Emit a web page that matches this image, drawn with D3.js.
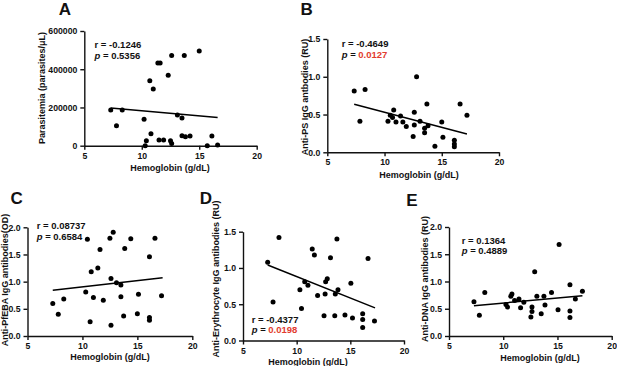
<!doctype html>
<html lang="en">
<head>
<meta charset="utf-8">
<title>Hemoglobin correlations</title>
<script src="https://d3js.org/d3.v7.min.js"></script>
<style>
    body { margin: 0; background: #fff; }
    svg { display: block; }
    text { font-family: "Liberation Sans", Arial, sans-serif; font-weight: bold; fill: #111; }
    .axis .domain, .axis .tick line { stroke: #111; stroke-width: 1.4; }
</style>
</head>
<body>
<svg id="chart" width="617" height="366"></svg>
<script>
    // hemoglobin (g/dL) vs each measure
    const hbA = [7.3, 7.8, 8.3, 10.2, 10.3, 10.4, 10.7, 10.8, 11.0, 11.4, 11.6, 11.5, 11.9, 12.3, 12.5, 12.6, 12.6, 13.1, 13.5, 13.5, 13.7, 13.8, 14.2, 15.0, 15.7, 16.1, 16.6];
    const parasitemia = [187000, 105000, 187000, 138000, 0, 26000, 340000, 63000, 296000, 432000, 432000, 30000, 30000, 368000, 26000, 472000, 12000, 160000, 145000, 52000, 472000, 47000, 51000, 495000, 0, 51000, 4000];
    const fitA = [[7.3, 197000], [16.6, 148000]];

    const hbB = [7.35, 7.85, 8.3, 12.8, 10.3, 10.5, 10.7, 10.8, 11.0, 11.4, 11.6, 11.9, 12.6, 12.6, 12.5, 13.1, 13.5, 13.5, 13.7, 13.8, 14.4, 15.0, 15.1, 16.1, 16.1, 16.1, 16.6, 17.2];
    const antiPS = [0.81, 0.41, 0.83, 1.0, 0.41, 0.49, 0.46, 0.56, 0.40, 0.48, 0.40, 0.34, 0.53, 0.36, 0.21, 0.41, 0.32, 0.26, 0.64, 0.35, 0.08, 0.40, 0.20, 0.16, 0.11, 0.075, 0.64, 0.49];
    const fitB = [[7.35, 0.635], [17.2, 0.243]];

    const hbC = [7.3, 7.8, 8.3, 10.3, 10.45, 10.7, 10.8, 11.0, 11.4, 11.6, 11.9, 12.5, 12.6, 12.6, 12.8, 13.1, 13.5, 13.5, 13.75, 13.85, 14.4, 15.0, 15.1, 16.1, 16.1, 16.1, 16.6, 17.2];
    const antiPfEBA = [0.60, 0.40, 0.68, 0.81, 1.78, 0.26, 1.18, 0.71, 1.25, 1.59, 0.66, 1.80, 1.06, 0.20, 1.91, 0.98, 0.94, 0.72, 0.37, 1.61, 1.79, 0.41, 0.77, 1.46, 0.34, 0.29, 1.80, 0.74];
    const fitC = [[7.3, 0.84], [17.3, 1.07]];

    const hbD = [7.3, 7.8, 8.35, 10.3, 10.45, 10.75, 11.05, 11.45, 11.65, 11.95, 12.55, 12.65, 12.7, 12.85, 13.15, 13.55, 13.6, 13.75, 13.85, 14.5, 15.05, 15.2, 16.15, 16.15, 16.15, 16.65, 17.25];
    const antiEry = [1.08, 0.53, 1.42, 0.70, 0.44, 0.81, 0.76, 1.26, 1.18, 0.62, 0.34, 0.64, 0.81, 0.85, 1.14, 0.34, 0.64, 1.40, 0.70, 0.35, 0.79, 0.31, 0.37, 0.29, 0.18, 1.13, 0.27];
    const fitD = [[7.3, 1.04], [17.3, 0.45]];

    const hbE = [7.3, 7.8, 8.3, 10.25, 10.4, 10.7, 10.8, 11.05, 11.45, 11.6, 11.9, 12.55, 12.65, 12.65, 12.9, 13.1, 13.5, 13.75, 13.85, 14.45, 15.05, 15.15, 16.15, 16.15, 16.15, 16.65, 17.3];
    const antiDNA = [0.63, 0.38, 0.80, 0.58, 0.53, 0.73, 0.77, 0.65, 0.68, 0.52, 0.62, 0.35, 0.53, 0.45, 1.18, 0.73, 0.41, 0.73, 0.57, 0.80, 0.48, 1.68, 0.94, 0.46, 0.34, 0.68, 0.82];
    const fitE = [[7.3, 0.555], [17.3, 0.738]];

    const xTicks = [5, 10, 15, 20];
    const yTicksA = [0, 200000, 400000, 600000];
    const yTicks15 = [0.0, 0.5, 1.0, 1.5];
    const yTicks20 = [0.0, 0.5, 1.0, 1.5, 2.0];

    const svg = d3.select("#chart");
    const red = "#e23b2e";

    function panel(p) {
        const x = d3.scaleLinear().domain([5, 20]).range([p.left, p.right]);
        const y = d3.scaleLinear().domain([0, p.ymax]).range([p.bottom, p.top]);
        const g = svg.append("g");

        g.append("g").attr("class", "axis")
            .attr("transform", `translate(0,${p.bottom})`)
            .call(d3.axisBottom(x).tickValues(xTicks).tickSize(4).tickSizeOuter(0).tickFormat(d3.format("d")));
        g.append("g").attr("class", "axis")
            .attr("transform", `translate(${p.left},0)`)
            .call(d3.axisLeft(y).tickValues(p.yTicks).tickSize(4).tickSizeOuter(0).tickFormat(p.fmt));
        g.selectAll(".axis .tick text").style("font-size", "8.7px").attr("fill", "#111");
        g.selectAll(".axis .tick line, .axis .domain").attr("stroke", "#111");

        g.selectAll("circle")
            .data(p.xs.map((v, i) => [v, p.ys[i]]))
            .join("circle")
            .attr("cx", d => x(d[0]))
            .attr("cy", d => y(d[1]))
            .attr("r", 2.5)
            .attr("fill", "#000");

        g.append("line")
            .attr("x1", x(p.fit[0][0])).attr("y1", y(p.fit[0][1]))
            .attr("x2", x(p.fit[1][0])).attr("y2", y(p.fit[1][1]))
            .attr("stroke", "#000").attr("stroke-width", 1.5);

        g.append("text").text(p.letter)
            .attr("x", p.letterX).attr("y", p.letterY)
            .attr("text-anchor", "middle").attr("dy", "0.36em")
            .style("font-size", "17px");

        g.append("text").text("Hemoglobin (g/dL)")
            .attr("x", p.xlab[0]).attr("y", p.xlab[1])
            .attr("text-anchor", "middle").attr("dy", "0.35em")
            .style("font-size", "9px");

        g.append("text").text(p.ylabel)
            .attr("transform", `translate(${p.ylab[0]},${p.ylab[1]}) rotate(-90)`)
            .attr("text-anchor", "middle").attr("dy", "0.35em")
            .style("font-size", "9px");

        g.append("text").text(p.r)
            .attr("x", p.stat[0]).attr("y", p.stat[1])
            .attr("dy", "0.35em").style("font-size", "9.5px");
        const pt = g.append("text")
            .attr("x", p.stat[0]).attr("y", p.stat[2])
            .attr("dy", "0.35em").style("font-size", "9.5px");
        pt.append("tspan").text("p").style("font-style", "italic");
        pt.append("tspan").text(" = ");
        pt.append("tspan").text(p.p).attr("fill", p.sig ? red : "#111");
    }

    panel({letter: "A", letterX: 65, letterY: 9, left: 84.3, right: 256.7, top: 31, bottom: 145.7,
        ymax: 600000, yTicks: yTicksA, fmt: d3.format("d"), xs: hbA, ys: parasitemia, fit: fitA,
        xlab: [170, 168], ylab: [42, 88], ylabel: "Parasitemia (parasites/\u03bcL)",
        stat: [94.5, 44.5, 55.5], r: "r = -0.1246", p: "0.5356", sig: false});

    panel({letter: "B", letterX: 306.7, letterY: 9, left: 327.3, right: 499, top: 39, bottom: 152.3,
        ymax: 1.5, yTicks: yTicks15, fmt: d3.format(".1f"), xs: hbB, ys: antiPS, fit: fitB,
        xlab: [419, 175], ylab: [305, 97], ylabel: "Anti-PS IgG antbodies (RU)",
        stat: [341.7, 43.5, 54.5], r: "r = -0.4649", p: "0.0127", sig: true});

    panel({letter: "C", letterX: 16.7, letterY: 198, left: 27.5, right: 192.3, top: 227.3, bottom: 336,
        ymax: 2.0, yTicks: yTicks20, fmt: d3.format(".1f"), xs: hbC, ys: antiPfEBA, fit: fitC,
        xlab: [110, 357], ylab: [5, 280], ylabel: "Anti-PfEBA IgG antibodies(OD)",
        stat: [36.7, 226, 237], r: "r = 0.08737", p: "0.6584", sig: false});

    panel({letter: "D", letterX: 206, letterY: 198, left: 243, right: 404, top: 231.7, bottom: 340.5,
        ymax: 1.5, yTicks: yTicks15, fmt: d3.format(".1f"), xs: hbD, ys: antiEry, fit: fitD,
        xlab: [308, 361.5], ylab: [216, 279], ylabel: "Anti-Erythrocyte IgG antibodies (RU)",
        stat: [251.7, 319.5, 330], r: "r = -0.4377", p: "0.0198", sig: true});

    panel({letter: "E", letterX: 412, letterY: 200, left: 449, right: 611.7, top: 227, bottom: 336,
        ymax: 2.0, yTicks: yTicks20, fmt: d3.format(".1f"), xs: hbE, ys: antiDNA, fit: fitE,
        xlab: [540, 358], ylab: [425, 279], ylabel: "Anti-DNA IgG antibodies (RU)",
        stat: [461.7, 240.5, 251], r: "r = 0.1364", p: "0.4889", sig: false});
</script>
</body>
</html>
